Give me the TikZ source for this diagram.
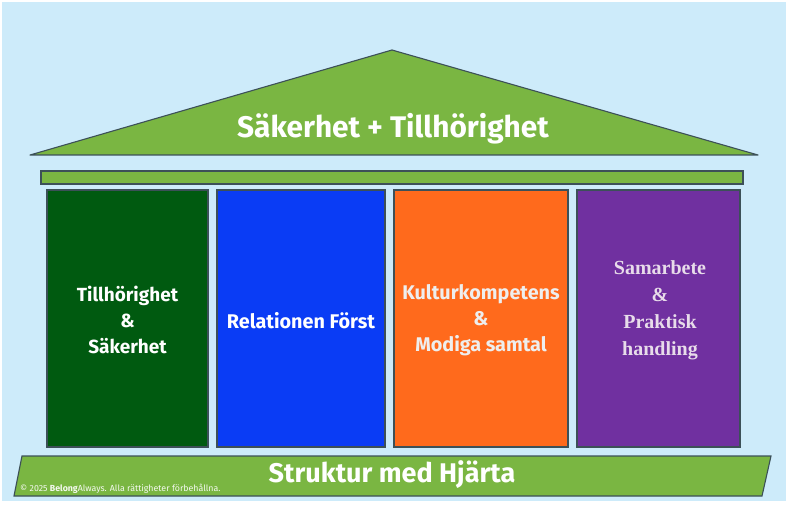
\documentclass[tikz,border=0pt]{standalone}
\usepackage{fontspec}
\setmainfont{Fira Sans}
\newfontfamily\serifb{Liberation Serif}
\definecolor{bgblue}{HTML}{CDEBFA}
\definecolor{roofgreen}{HTML}{7AB642}
\definecolor{edge}{HTML}{3C5058}
\definecolor{pgreen}{HTML}{005A10}
\definecolor{pblue}{HTML}{0A3CF5}
\definecolor{porange}{HTML}{FF6A1C}
\definecolor{ppurple}{HTML}{7030A0}
\definecolor{lightgray}{HTML}{EEEEEE}
\definecolor{pinkgray}{HTML}{E8DCEA}
\begin{document}
\begin{tikzpicture}[x=1pt,y=-1pt,
  shapeedge/.style={draw=edge,line width=1.1pt},
  pillar/.style={shapeedge,line join=miter},
  ptext/.style={align=center,font=\bfseries\fontsize{19}{26}\selectfont},
  bigtext/.style={text=white,font=\bfseries\fontsize{29.8}{32}\selectfont}]
\useasboundingbox (0,0) rectangle (790,505);
\fill[white] (0,0) rectangle (790,505);
\fill[bgblue] (2,2) rectangle (786,501);
% roof
\coordinate (rl) at (30,155);
\coordinate (ra) at (392,50);
\coordinate (rr) at (758,155);
\fill[roofgreen] (rl) -- (ra) -- (rr) -- cycle;
\draw[shapeedge,line join=round] (rl) -- (ra) -- (rr) -- cycle;
\node[bigtext] (rooftext) at (393,129) {Säkerhet + Tillhörighet};
% beam
\path[pillar,fill=roofgreen] (41,171) rectangle (743,184);
% pillars
\path[pillar,fill=pgreen] (47,190) rectangle (208,447);
\path[pillar,fill=pblue] (217,190) rectangle (385,447);
\path[pillar,fill=porange] (394,190) rectangle (568,447);
\path[pillar,fill=ppurple] (577,190) rectangle (740,447);
\node[ptext,text=white] (t1) at (127.5,320) {Tillhörighet\\\&\\Säkerhet};
\node[ptext,text=white,font=\bfseries\fontsize{19.8}{26}\selectfont] (t2) at (301,321) {Relationen Först};
\node[ptext,text=lightgray,font=\bfseries\fontsize{19.8}{26}\selectfont] (t3) at (481,320) {Kulturkompetens\\\&\\Modiga samtal};
\node[align=center,text=pinkgray,font=\serifb\bfseries\fontsize{20}{27}\selectfont] (t4) at (660,310) {Samarbete\\\&\\Praktisk\\handling};
% base
\path[pillar,fill=roofgreen] (22,456) -- (771,456) -- (762,496) -- (14,496) -- cycle;
\node[bigtext,font=\bfseries\fontsize{27}{30}\selectfont] (basetext) at (392,475) {Struktur med Hjärta};
\node[anchor=west,text=white!92!roofgreen,font=\fontsize{8.8}{10}\selectfont,inner sep=0pt] (copy) at (20,489) {© 2025 \textbf{Belong}Always. Alla rättigheter förbehållna.};
\end{tikzpicture}
\end{document}
